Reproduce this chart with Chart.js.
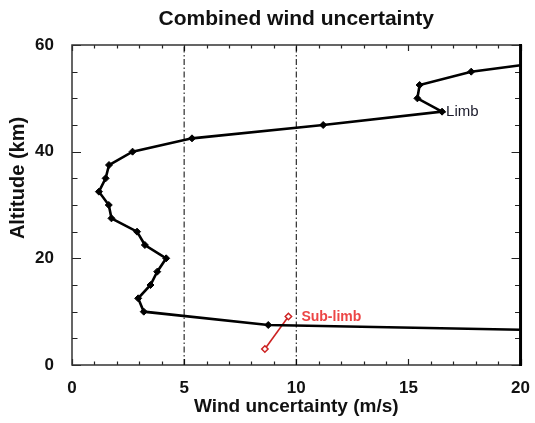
<!DOCTYPE html>
<html>
<head>
<meta charset="utf-8">
<script src="https://cdn.jsdelivr.net/npm/chart.js@4/dist/chart.umd.min.js"></script>
<style>
  body { margin: 0; background: #fff; }
  #wrap { width: 535px; height: 423px; }
</style>
</head>
<body>
<div id="wrap"><canvas id="myChart" width="535" height="423"></canvas></div>
<script>
// Limb profile: altitude (km) and wind uncertainty (m/s)
const limbAlt    = [6.6, 7.5, 10, 12.5, 15, 17.5, 20, 22.5, 25, 27.5, 30, 32.5, 35, 37.5, 40, 42.5, 45, 47.5, 50, 52.5, 55, 56.2]
const limbUncert = [20, 8.75, 3.2, 2.95, 3.5, 3.8, 4.2, 3.25, 2.9, 1.76, 1.64, 1.2, 1.5, 1.65, 2.7, 5.35, 11.2, 16.5, 15.4, 15.5, 17.8, 20]

// Sub-limb points
const subAlt    = [3.0, 9.1]
const subUncert = [8.6, 9.65]

// reference lines and ticks
const refLines = [5, 10]
const xMinorTicks = [...Array(21).keys()]            // 0..20 every 1
const yMinorTicks = [0, 5, 10, 15, 20, 25, 30, 35, 40, 45, 50, 55, 60]

const FONT = 'Liberation Sans, Arial, Helvetica, sans-serif'

const toPoints = (xs, ys) => xs.map((x, i) => ({ x: x, y: ys[i] }))

// frame, inward ticks, title and text labels
const decorPlugin = {
  id: 'decor',
  beforeDatasetsDraw(chart) {
    const { ctx, chartArea: a, scales: { x, y } } = chart
    ctx.save()
    ctx.strokeStyle = '#222'
    ctx.lineWidth = 1.2
    xMinorTicks.forEach(v => {
      const px = Math.round(x.getPixelForValue(v)) + 0.5
      const len = v % 5 === 0 ? 6 : 3.5
      ctx.beginPath()
      ctx.moveTo(px, a.bottom); ctx.lineTo(px, a.bottom - len)
      ctx.moveTo(px, a.top); ctx.lineTo(px, a.top + len)
      ctx.stroke()
    })
    yMinorTicks.forEach(v => {
      const py = Math.round(y.getPixelForValue(v)) + 0.5
      const len = v % 20 === 0 ? 9 : 5.5
      ctx.beginPath()
      ctx.moveTo(a.left, py); ctx.lineTo(a.left + len, py)
      ctx.moveTo(a.right, py); ctx.lineTo(a.right - len, py)
      ctx.stroke()
    })
    // frame
    ctx.lineWidth = 1.5
    ctx.strokeStyle = '#333'
    ctx.beginPath()
    ctx.moveTo(a.right, a.top); ctx.lineTo(a.left, a.top)
    ctx.lineTo(a.left, a.bottom); ctx.lineTo(a.right, a.bottom)
    ctx.stroke()
    ctx.lineWidth = 3
    ctx.strokeStyle = '#000'
    ctx.beginPath()
    ctx.moveTo(a.right, a.top - 1); ctx.lineTo(a.right, a.bottom + 1)
    ctx.stroke()
    ctx.restore()
  },
  afterDatasetsDraw(chart) {
    const { ctx, chartArea: a, scales: { x, y } } = chart
    ctx.save()
    ctx.textBaseline = 'middle'
    ctx.textAlign = 'center'
    ctx.fillStyle = '#111'
    ctx.font = 'bold 21px ' + FONT
    ctx.fillText('Combined wind uncertainty', (a.left + a.right) / 2, 19)

    // y axis title, sits a bit above the middle in the original
    ctx.save()
    ctx.translate(18, 178)
    ctx.rotate(-Math.PI / 2)
    ctx.font = 'bold 20px ' + FONT
    ctx.fillText('Altitude (km)', 0, 0)
    ctx.restore()

    ctx.textAlign = 'left'
    ctx.font = '15px ' + FONT
    ctx.fillStyle = '#1a1a2a'
    ctx.fillText('Limb', x.getPixelForValue(limbUncert[17]) + 4, y.getPixelForValue(limbAlt[17]))

    ctx.font = 'bold 14px ' + FONT
    ctx.fillStyle = '#ec4545'
    ctx.fillText('Sub-limb', x.getPixelForValue(subUncert[1]) + 13, y.getPixelForValue(subAlt[1]) + 1)
    ctx.restore()
  }
}

const createChart = () => {
  const datasets = refLines.map(v => ({
    data: [{ x: v, y: 0 }, { x: v, y: 60 }],
    showLine: true,
    borderColor: '#000',
    borderWidth: 1,
    borderDash: [6, 2.5, 1.5, 2.5],
    pointRadius: 0,
  }))

  datasets.push({
    label: 'Limb',
    data: toPoints(limbUncert, limbAlt),
    showLine: true,
    borderColor: '#000',
    borderWidth: 2.6,
    pointStyle: 'rectRot',
    pointRadius: ctx => (ctx.raw && ctx.raw.x >= 20 ? 0 : 3.5),
    pointBackgroundColor: '#000',
    pointBorderColor: '#000',
    pointBorderWidth: 1,
  })

  datasets.push({
    label: 'Sub-limb',
    data: toPoints(subUncert, subAlt),
    showLine: true,
    borderColor: '#cc2222',
    borderWidth: 1.6,
    pointStyle: 'rectRot',
    pointRadius: 3.2,
    pointBackgroundColor: '#fff',
    pointBorderColor: '#cc2222',
    pointBorderWidth: 1.5,
  })

  const config = {
    type: 'scatter',
    data: { datasets: datasets },
    options: {
      responsive: false,
      animation: false,
      layout: { padding: { top: 45, right: 13, left: 0, bottom: 0 } },
      plugins: { legend: { display: false }, tooltip: { enabled: false } },
      scales: {
        x: {
          type: 'linear', min: 0, max: 20,
          grid: { display: false },
          border: { display: false },
          ticks: { stepSize: 5, padding: 5, color: '#111', font: { family: FONT, size: 17, weight: 'bold' } },
          title: { display: true, text: 'Wind uncertainty (m/s)', color: '#111',
                   font: { family: FONT, size: 19, weight: 'bold' }, padding: { top: 0, bottom: 5 } },
          afterFit: s => { s.height = 58 }
        },
        y: {
          type: 'linear', min: 0, max: 60,
          grid: { display: false },
          border: { display: false },
          ticks: { stepSize: 20, padding: 10, color: '#111', font: { family: FONT, size: 17, weight: 'bold' } },
          afterFit: s => { s.width = 72 }
        }
      }
    },
    plugins: [decorPlugin]
  }

  chart = new Chart(document.getElementById('myChart'), config)
}

let chart = undefined
createChart()
</script>
</body>
</html>
